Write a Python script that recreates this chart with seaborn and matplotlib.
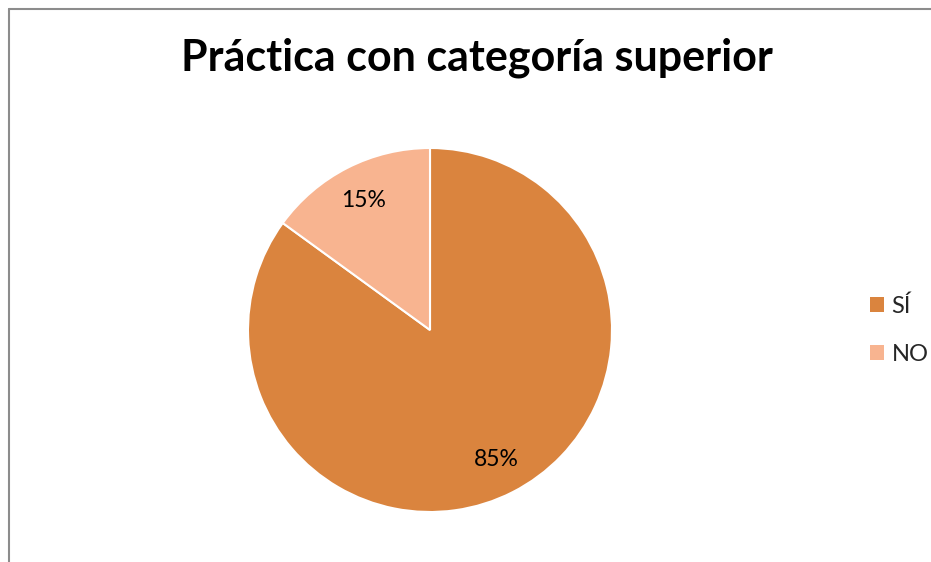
import matplotlib
matplotlib.use("Agg")
import matplotlib.pyplot as plt
from matplotlib.lines import Line2D
from matplotlib.patches import Patch
import seaborn as sns

# Data
categories = ["SÍ", "NO"]
values = [85, 15]
colors = ["#DA843E", "#F8B490"]
title = "Práctica con categoría superior"

sns.set_theme(style="white")
plt.rcParams["font.family"] = ["Lato", "DejaVu Sans"]

W, H = 931, 562
fig = plt.figure(figsize=(W / 100, H / 100), dpi=100)

# pie axes: centre (430, 330) px, radius 182 px
cx, cy, r = 430, 330, 182
ax = fig.add_axes([(cx - r) / W, (H - cy - r) / H, 2 * r / W, 2 * r / H])
wedges, texts, autotexts = ax.pie(
    values,
    colors=colors,
    startangle=90,
    counterclock=False,
    autopct="%1.0f%%",
    pctdistance=0.8,
    radius=1,
    wedgeprops=dict(edgecolor="white", linewidth=1.5),
    textprops=dict(fontsize=16.5, color="black"),
)
ax.set_xlim(-1.0, 1.0)
ax.set_ylim(-1.0, 1.0)
ax.set_aspect("equal")
ax.axis("off")

fig.text(477 / W, 1 - 58 / H, title, ha="center", va="center",
         fontsize=31, fontweight="bold", color="black")

handles = [Patch(facecolor=c, edgecolor="none") for c in colors]
fig.legend(handles, categories, loc="center left",
           bbox_to_anchor=(849 / W, 1 - 330 / H), frameon=False,
           fontsize=17, handlelength=0.6, handleheight=0.6,
           handletextpad=0.3, labelspacing=1.15)

# chart frame (top and left edges visible)
fig.add_artist(Line2D([9 / W, 1], [1 - 9 / H, 1 - 9 / H], color="#8c8c8c", lw=1.5))
fig.add_artist(Line2D([9 / W, 9 / W], [0, 1 - 9 / H], color="#8c8c8c", lw=1.5))

fig.savefig("out.png", dpi=100, facecolor="white")
